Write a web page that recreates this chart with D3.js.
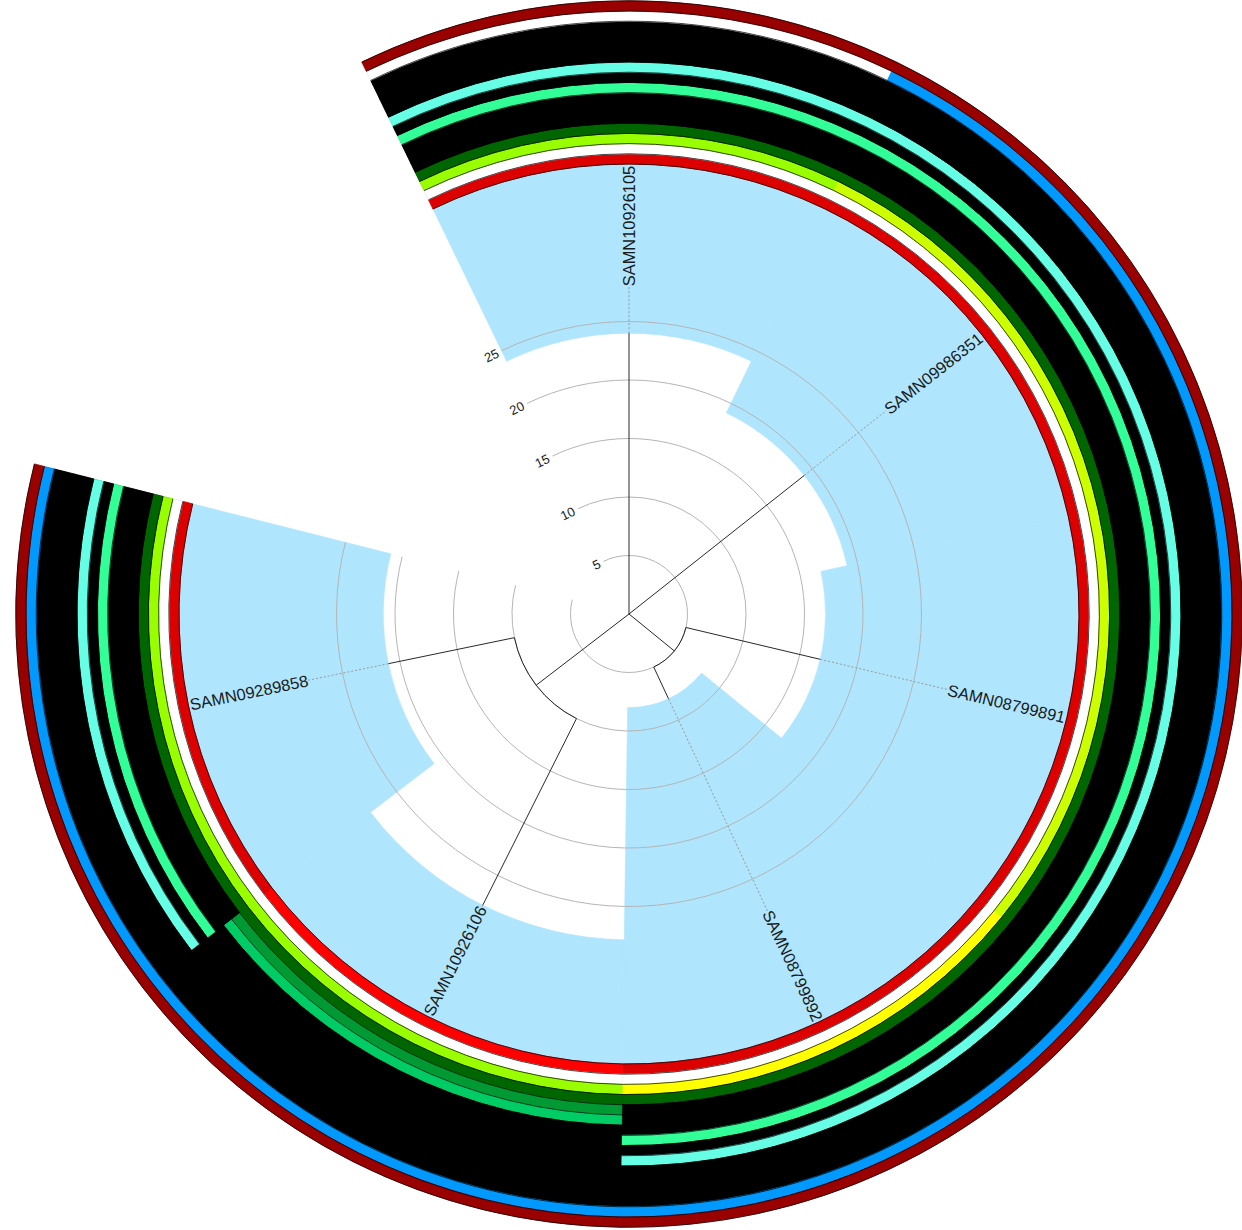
<!DOCTYPE html>
<html><head><meta charset="utf-8">
<script src="https://cdn.jsdelivr.net/npm/d3@7"></script>
<style>body{margin:0;background:#fff}svg{display:block}</style>
</head><body>
<svg id="chart" width="1242" height="1230"></svg>
<script>
// ---- data ----
const leaves = ["SAMN10926105","SAMN09986351","SAMN08799891","SAMN08799892","SAMN10926106","SAMN09289858"];
const tipX = [24.0, 19.1, 16.8, 8.0, 27.85, 21.0];
const leafParent = ["root","root","n1","n1","n2","n2"];
const nodeNames = ["root","n1","n2"];
const nodeX = [0, 5.0, 10.0];
const nodeParent = [null,"root","root"];
const gridTicks = [5,10,15,20,25];
const ringNames = ["R01","R02","R03","R04","R05","R06","R07","R08","R09","R10","R11","R12","R13","R14","R15","R16"];
const ringValues = [
  ["T01","T01","T01","T01","T02","T01"],
  ["T03","T03","T03","T03","T03","T03"],
  ["T04","T05","T05","T06","T04","T04"],
  ["T07","T07","T07","T07","T07","T07"],
  ["none","none","none","none","T08","none"],
  ["none","none","none","none","T09","none"],
  ["none","none","none","none","none","none"],
  ["T10","T10","T10","T10","none","T10"],
  ["none","none","none","none","none","none"],
  ["T11","T11","T11","T11","none","T11"],
  ["none","none","none","none","none","none"],
  ["none","none","none","none","none","none"],
  ["none","none","none","none","none","none"],
  ["none","none","none","none","none","none"],
  ["T03","T12","T12","T12","T12","T12"],
  ["T13","T13","T13","T13","T13","T13"]
];
const categories = ["T01","T02","T03","T04","T05","T06","T07","T08","T09","T10","T11","T12","T13","none"];
const categoryColors = ["#dd0000","#ff0000","#ffffff","#99ff00","#ccff00","#ffff00","#006600","#009933","#00cc66","#33ff99","#66ffe6","#0099ff","#990000","#000000"];

// ---- layout ----
const cx = 629, cy = 614;
const deg = Math.PI/180;
const openAngle = 50;
const span = 360 - openAngle;
const startA = -span/leaves.length/2;
const angle = d3.scaleBand().domain(leaves).range([startA*deg, (startA+span)*deg]);
const bw = angle.bandwidth();
const mid = d => angle(d) + bw/2;
const r = d3.scaleLinear().domain([0,25]).range([0,292.5]);
const ring = d3.scaleBand().domain(ringNames).range([450, 613.2]);
const color = d3.scaleOrdinal().domain(categories).range(categoryColors);

const svg = d3.select("#chart");
const g = svg.append("g").attr("transform",`translate(${cx},${cy})`);
const a0 = angle.range()[0], a1 = angle.range()[1];

// light blue sectors from tip to ring start
const arc = d3.arc();
g.append("g").selectAll("path").data(leaves).join("path")
  .attr("d",(d,i)=>arc({innerRadius:r(tipX[i]),outerRadius:ring.range()[0]+1,startAngle:angle(d),endAngle:angle(d)+bw}))
  .attr("fill","#afe5fd").attr("stroke","#afe5fd").attr("stroke-width",0.6);

// grid arcs
function arcPath(rad, s, e){ const p=d3.path(); p.arc(0,0,rad,s-Math.PI/2,e-Math.PI/2,false); return p.toString(); }
g.append("g").selectAll("path").data(gridTicks).join("path")
  .attr("d",t=>arcPath(r(t),a0,a1)).attr("fill","none").attr("stroke","#b5b5b5").attr("stroke-width",1);
g.append("g").selectAll("text").data(gridTicks).join("text")
  .attr("transform",t=>`rotate(${a0/deg}) translate(-4,${-r(t)})`)
  .attr("text-anchor","end").attr("dominant-baseline","central")
  .attr("font-family","Liberation Sans, Arial, sans-serif").attr("font-size",13).attr("fill","#222")
  .text(t=>t);

// rings of tiles: black underlay, tiles, ring outlines
const ringG = g.append("g");
ringG.append("path")
  .attr("d",arc({innerRadius:ring(ringNames[1]),outerRadius:ring(ringNames[ringNames.length-1]),startAngle:a0,endAngle:a1}))
  .attr("fill","#000");
ringNames.forEach((rn,j)=>{
  ringG.append("g").selectAll("path").data(leaves).join("path")
    .attr("d",(d,i)=>arc({innerRadius:ring(rn),outerRadius:ring(rn)+ring.bandwidth(),startAngle:angle(d),endAngle:angle(d)+bw}))
    .attr("fill",(d,i)=>color(ringValues[j][i]))
    .attr("stroke",(d,i)=>color(ringValues[j][i])).attr("stroke-width",0.8);
});
const edges = ringNames.map(rn=>ring(rn)).concat([ring.range()[1]]);
ringG.append("g").selectAll("path").data(edges).join("path")
  .attr("d",e=>arcPath(e,a0,a1)).attr("fill","none").attr("stroke","#000").attr("stroke-width",0.7);

// tree
const nodeAngle = {};
leaves.forEach(l=>nodeAngle[l]=mid(l));
const nodeDepth = {};
leaves.forEach((l,i)=>nodeDepth[l]=tipX[i]);
nodeNames.forEach((n,i)=>nodeDepth[n]=nodeX[i]);
const parentOf = {};
leaves.forEach((l,i)=>parentOf[l]=leafParent[i]);
nodeNames.forEach((n,i)=>parentOf[n]=nodeParent[i]);
const childrenOf = {};
Object.keys(parentOf).forEach(k=>{ const p=parentOf[k]; if(p){ (childrenOf[p]=childrenOf[p]||[]).push(k);} });
function ang(n){ if(nodeAngle[n]!==undefined) return nodeAngle[n]; const cs=childrenOf[n].map(ang); nodeAngle[n]=d3.mean([d3.min(cs),d3.max(cs)]); return nodeAngle[n]; }
nodeNames.forEach(ang);
const pol = (rad,a)=>[rad*Math.sin(a), -rad*Math.cos(a)];
const treeG = g.append("g").attr("fill","none").attr("stroke","#111").attr("stroke-width",0.9);
Object.keys(parentOf).forEach(k=>{
  const p = parentOf[k]; if(!p) return;
  const [x1,y1]=pol(r(nodeDepth[p]),nodeAngle[k]); const [x2,y2]=pol(r(nodeDepth[k]),nodeAngle[k]);
  treeG.append("line").attr("x1",x1).attr("y1",y1).attr("x2",x2).attr("y2",y2);
});
nodeNames.forEach(n=>{
  if(nodeDepth[n]<=0) return;
  const cs = childrenOf[n].map(c=>nodeAngle[c]);
  treeG.append("path").attr("d",arcPath(r(nodeDepth[n]),d3.min(cs),d3.max(cs)));
});

// dotted leaders and labels
const labelR = r(d3.max(tipX)) + 2;
g.append("g").selectAll("line").data(leaves).join("line")
  .attr("x1",(d,i)=>pol(r(tipX[i]),mid(d))[0]).attr("y1",(d,i)=>pol(r(tipX[i]),mid(d))[1])
  .attr("x2",d=>pol(labelR,mid(d))[0]).attr("y2",d=>pol(labelR,mid(d))[1])
  .attr("stroke","#999").attr("stroke-width",1).attr("stroke-dasharray","2,2");
g.append("g").selectAll("text").data(leaves).join("text")
  .attr("transform",d=>{ const a=mid(d)/deg; return a<=180 ? `rotate(${a-90}) translate(${labelR},0)` : `rotate(${a-90}) translate(${labelR},0) rotate(180)`; })
  .attr("text-anchor",d=>mid(d)/deg<=180?"start":"end")
  .attr("dominant-baseline","central")
  .attr("font-family","Liberation Sans, Arial, sans-serif").attr("font-size",16.4).attr("fill","#1a1a1a")
  .text(d=>d);
</script>
</body></html>
